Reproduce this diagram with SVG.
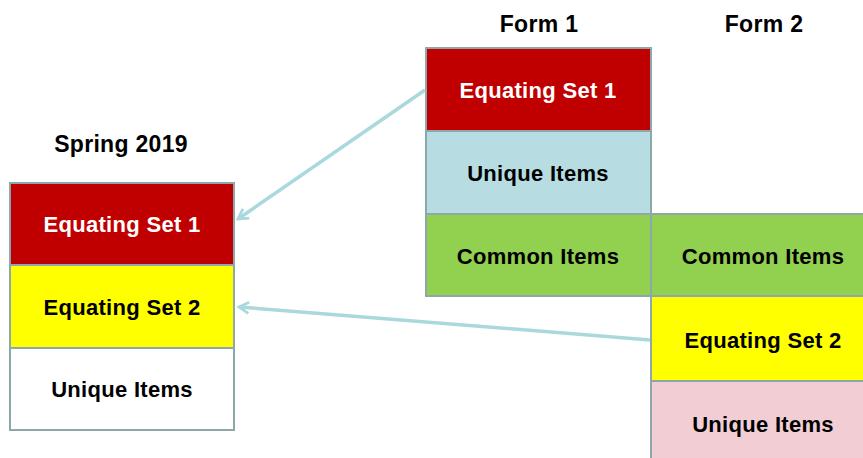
<svg xmlns="http://www.w3.org/2000/svg" width="863" height="458" viewBox="0 0 863 458">
<defs>
<style>
text{font-family:"Liberation Sans",Arial,sans-serif;font-weight:bold;font-size:22px;text-anchor:middle;fill:#000;letter-spacing:0.3px}
.h{font-size:23px}
.w{fill:#fff}
.cell{stroke:#8ea7ab;stroke-width:2}
.conn{stroke:#a9d8dd;stroke-width:3.5;fill:none;marker-end:url(#ah)}
</style>
<marker id="ah" viewBox="0 0 10 10" refX="8" refY="5" markerWidth="4" markerHeight="4" orient="auto" markerUnits="strokeWidth">
<path d="M1,1 L8,5 L1,9" fill="none" stroke="#a9d8dd" stroke-width="2"/>
</marker>
</defs>
<rect width="863" height="458" fill="#fff"/>
<text class="h" x="539" y="32">Form 1</text>
<text class="h" x="764" y="32">Form 2</text>
<text class="h" x="121" y="152">Spring 2019</text>
<g id="spring">
<g id="s_eq1"><rect class="cell" x="10" y="183" width="224" height="82" fill="#c00000"/><text class="w" x="122" y="232">Equating Set 1</text></g>
<g id="s_eq2"><rect class="cell" x="10" y="265" width="224" height="83" fill="#ffff00"/><text x="122" y="315">Equating Set 2</text></g>
<g id="s_uni"><rect class="cell" x="10" y="348" width="224" height="82" fill="#ffffff"/><text x="122" y="397">Unique Items</text></g>
</g>
<g id="form1">
<g id="f1_eq1"><rect class="cell" x="426" y="48" width="225" height="83" fill="#c00000"/><text class="w" x="538" y="98">Equating Set 1</text></g>
<g id="f1_uni"><rect class="cell" x="426" y="131" width="225" height="83" fill="#b7dde2"/><text x="538" y="181">Unique Items</text></g>
<g id="f1_com"><rect class="cell" x="426" y="214" width="225" height="82" fill="#92d050"/><text x="538" y="264">Common Items</text></g>
</g>
<g id="form2">
<g id="f2_com"><rect class="cell" x="651" y="214" width="225" height="82" fill="#92d050"/><text x="763" y="264">Common Items</text></g>
<g id="f2_eq2"><rect class="cell" x="651" y="296" width="225" height="85" fill="#ffff00"/><text x="763" y="348">Equating Set 2</text></g>
<g id="f2_uni"><rect class="cell" x="651" y="381" width="225" height="90" fill="#f2cdd4"/><text x="763" y="432">Unique Items</text></g>
</g>
<g id="connectors">
<line class="conn" x1="425" y1="90" x2="238" y2="219"/>
<line class="conn" x1="650" y1="340" x2="239" y2="307"/>
</g>
</svg>
